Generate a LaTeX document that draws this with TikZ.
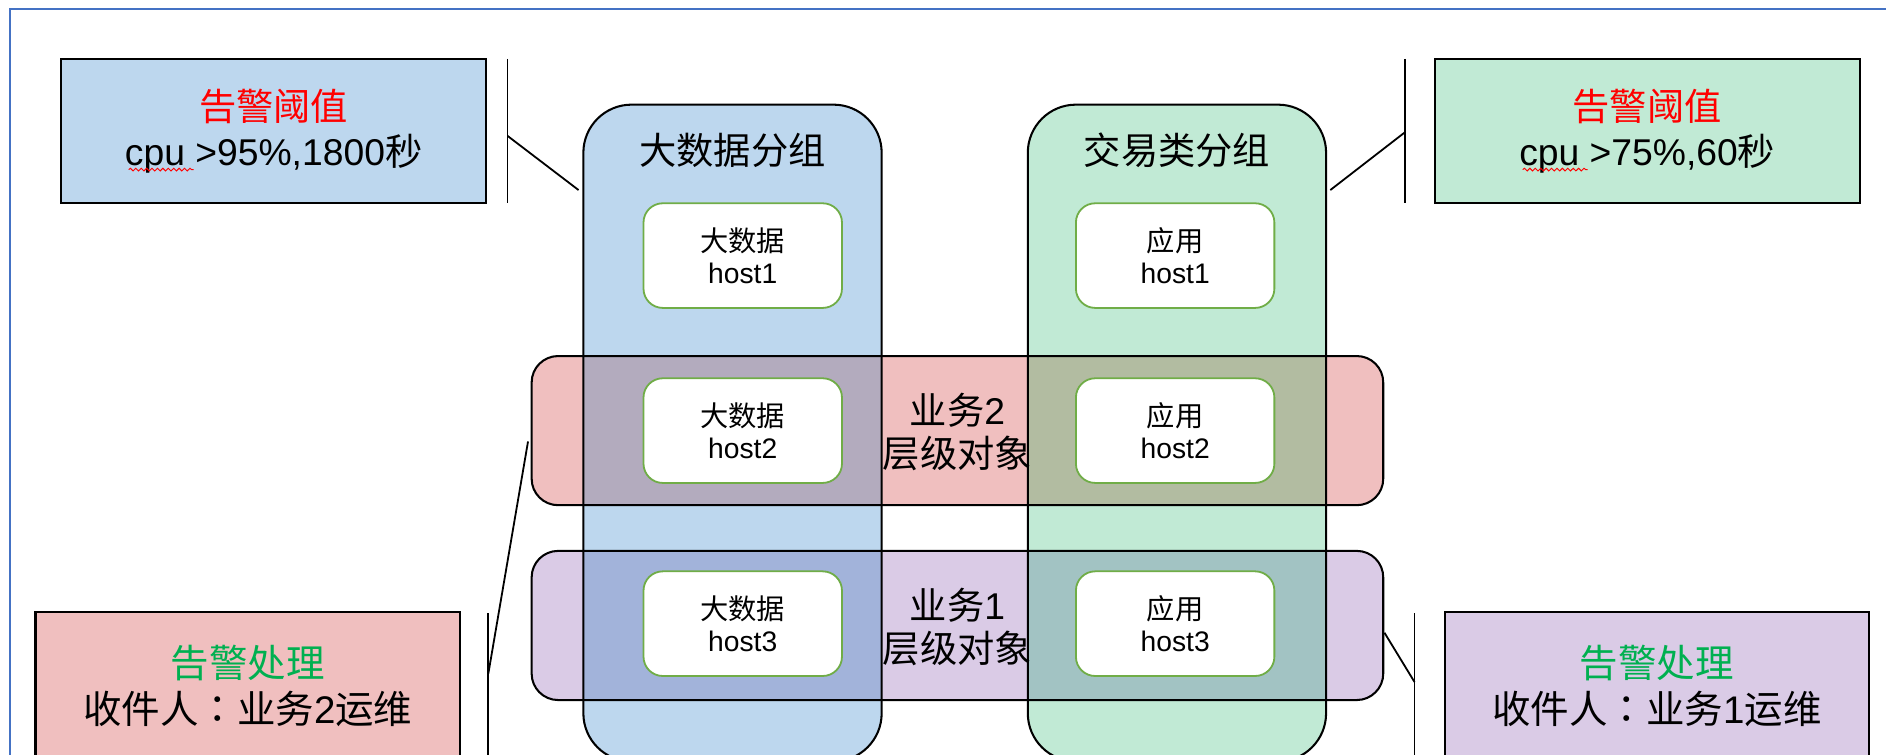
\documentclass[tikz,border=0pt]{standalone}
\usepackage{fontspec}
\setmainfont{Liberation Sans}
\newfontfamily\cjk{Noto Sans CJK SC}
\newfontfamily\cjktc{Noto Sans CJK TC}
\usetikzlibrary{decorations.pathmorphing}
\definecolor{frameC}{HTML}{4472C4}
\definecolor{blueF}{HTML}{BDD7EE}
\definecolor{greenF}{HTML}{C1EAD5}
\definecolor{pinkF}{HTML}{F0BFBF}
\definecolor{purpF}{HTML}{DACBE6}
\definecolor{ovPB}{HTML}{B3ABBE}
\definecolor{ovPG}{HTML}{B2BCA1}
\definecolor{ovUB}{HTML}{A2B3DA}
\definecolor{ovUG}{HTML}{A2C3C3}
\definecolor{hostG}{HTML}{70AD47}
\definecolor{alertG}{HTML}{00B050}
\begin{document}
\begin{tikzpicture}[x=1pt,y=-1pt,
  every node/.style={outer sep=0pt, inner sep=0pt},
  outl/.style={draw=black, line width=1.7pt},
  alertbox/.style={draw=black, line width=1.7pt, minimum width=353pt, align=center,
    font=\fontsize{31}{37.5}\selectfont},
  grp/.style={minimum width=248pt, minimum height=546pt},
  lay/.style={minimum width=708pt, minimum height=124pt},
  hostbox/.style={draw=hostG, fill=white, line width=1.5pt, rounded corners=16pt,
    minimum width=165pt, minimum height=87pt, align=center, font=\fontsize{23.5}{27}\selectfont},
  ttl/.style={font=\fontsize{31}{37}\selectfont},
  laytxt/.style={align=center, font=\fontsize{31}{36}\selectfont},
  brk/.style={draw=black, line width=1.5pt},
  squig/.style={draw=red, line width=0.8pt, decorate, decoration={snake, amplitude=1.1pt, segment length=4.5pt}}]
\useasboundingbox (0,0) rectangle (1568,627);
\fill[white] (0,0) rectangle (1568,627);
% frame
\draw[frameC, line width=1.6pt] (1575,7.5) -- (8.5,7.5) -- (8.5,640);
% groups
\node[grp, fill=blueF, rounded corners=40pt] (bd) at (609,360) {};
\node[grp, fill=greenF, rounded corners=40pt] (tr) at (978.5,360) {};
% layers
\node[lay, fill=pinkF, rounded corners=22pt] (b2) at (796,358) {};
\node[lay, fill=purpF, rounded corners=22pt] (b1) at (796,520) {};
% overlaps
\begin{scope}
\clip[rounded corners=40pt] (bd.south west) rectangle (bd.north east);
\fill[ovPB, rounded corners=22pt] (b2.south west) rectangle (b2.north east);
\fill[ovUB, rounded corners=22pt] (b1.south west) rectangle (b1.north east);
\end{scope}
\begin{scope}
\clip[rounded corners=40pt] (tr.south west) rectangle (tr.north east);
\fill[ovPG, rounded corners=22pt] (b2.south west) rectangle (b2.north east);
\fill[ovUG, rounded corners=22pt] (b1.south west) rectangle (b1.north east);
\end{scope}
% outlines
\draw[outl, rounded corners=40pt] (bd.south west) rectangle (bd.north east);
\draw[outl, rounded corners=40pt] (tr.south west) rectangle (tr.north east);
\draw[outl, rounded corners=22pt] (b2.south west) rectangle (b2.north east);
\draw[outl, rounded corners=22pt] (b1.south west) rectangle (b1.north east);
% titles
\node[ttl] (t1) at (609,125) {\cjk 大数据分组};
\node[ttl] (t2) at (978.5,125) {\cjk 交易类分组};
% hosts
\node[hostbox] (h1) at (617.5,212.5) {{\cjk 大数据}\\host1};
\node[hostbox] (h2) at (617.5,358) {{\cjk 大数据}\\host2};
\node[hostbox] (h3) at (617.5,518.5) {{\cjk 大数据}\\host3};
\node[hostbox] (a1) at (977,212.5) {{\cjk 应用}\\host1};
\node[hostbox] (a2) at (977,358) {{\cjk 应用}\\host2};
\node[hostbox] (a3) at (977,518.5) {{\cjk 应用}\\host3};
% layer labels
\node[laytxt] (l2) at (796,359) {{\cjk 业务}2\\{\cjk 层级对象}};
\node[laytxt] (l1) at (796,521) {{\cjk 业务}1\\{\cjk 层级对象}};
% alert boxes
\node[alertbox, fill=blueF, minimum height=120pt] (thL) at (227.5,109)
  {{\color{red}\cjk 告警阈值}\\cpu >95\%,1800{\cjk 秒}};
\node[alertbox, fill=greenF, minimum height=120pt] (thR) at (1369.5,109)
  {{\color{red}\cjk 告警阈值}\\cpu >75\%,60{\cjk 秒}};
\node[alertbox, fill=pinkF, minimum height=122pt, font=\fontsize{32}{38}\selectfont] (hdL) at (206,570)
  {{\color{alertG}\cjk 告警处理}\\{\cjk 收件人}{\cjktc ：}{\cjk 业务}2{\cjk 运维}};
\node[alertbox, fill=purpF, minimum height=122pt, font=\fontsize{32}{38}\selectfont] (hdR) at (1377.5,570)
  {{\color{alertG}\cjk 告警处理}\\{\cjk 收件人}{\cjktc ：}{\cjk 业务}1{\cjk 运维}};
% spell-check squiggles
\draw[squig] (107,141) -- (161,141);
\draw[squig] (1266,141) -- (1320,141);
% brackets
\coordinate (kTLa) at (422,49); \coordinate (kTLb) at (422,169);
\coordinate (kTLm) at (422,113); \coordinate (kTLe) at (481,158);
\draw[brk] (kTLa) -- (kTLb);
\draw[brk] (kTLm) -- (kTLe);
\coordinate (kTRa) at (1168,49); \coordinate (kTRb) at (1168,169);
\coordinate (kTRm) at (1168,110); \coordinate (kTRe) at (1106,158);
\draw[brk] (kTRa) -- (kTRb);
\draw[brk] (kTRm) -- (kTRe);
\coordinate (kBLa) at (406,510); \coordinate (kBLb) at (406,640);
\coordinate (kBLm) at (406,560); \coordinate (kBLe) at (439,367);
\draw[brk] (kBLa) -- (kBLb);
\draw[brk] (kBLm) -- (kBLe);
\coordinate (kBRa) at (1176,510); \coordinate (kBRb) at (1176,640);
\coordinate (kBRm) at (1176,567); \coordinate (kBRe) at (1151,526);
\draw[brk] (kBRa) -- (kBRb);
\draw[brk] (kBRm) -- (kBRe);
\end{tikzpicture}
\end{document}
